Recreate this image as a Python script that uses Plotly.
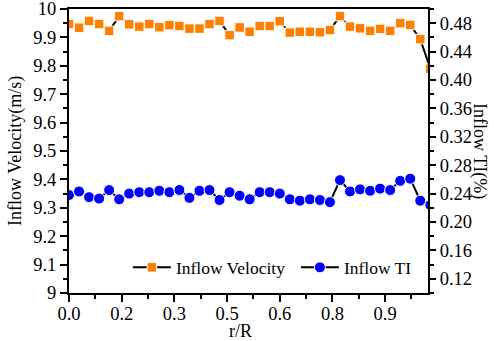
import numpy as np
import plotly.graph_objects as go

# r/R positions (36 visible points + one just beyond the axis end)
r_over_R = [i / 35 for i in range(37)]

inflow_velocity = [9.947, 9.934, 9.958, 9.947, 9.923, 9.975, 9.946, 9.938, 9.947, 9.936,
                   9.943, 9.940, 9.931, 9.931, 9.947, 9.958, 9.908, 9.935, 9.920, 9.940,
                   9.940, 9.957, 9.917, 9.920, 9.920, 9.918, 9.926, 9.975, 9.938, 9.932,
                   9.923, 9.930, 9.923, 9.950, 9.944, 9.894, 9.790]

inflow_ti = [0.238, 0.243, 0.235, 0.233, 0.245, 0.232, 0.240, 0.242, 0.242, 0.244,
             0.242, 0.245, 0.234, 0.244, 0.245, 0.231, 0.242, 0.237, 0.232, 0.242,
             0.242, 0.240, 0.232, 0.230, 0.232, 0.231, 0.228, 0.259, 0.243, 0.246,
             0.244, 0.247, 0.245, 0.258, 0.261, 0.230, 0.224]

x_tick_vals = [0.0, 0.15, 0.30, 0.45, 0.60, 0.75, 0.90]
x_tick_text = ["0.0", "0.2", "0.3", "0.5", "0.6", "0.8", "0.9"]

FONT = "'Liberation Serif', 'Times New Roman', Times, serif"
TICKFONT = dict(family=FONT, size=18.5, color="black")
TITLEFONT = dict(family=FONT, size=18, color="black")
LEGENDFONT = dict(family=FONT, size=17.5, color="black")

fig = go.Figure()
fig.add_trace(go.Scatter(
    x=r_over_R, y=inflow_velocity, name="Inflow Velocity",
    mode="lines+markers",
    line=dict(color="black", width=2),
    marker=dict(symbol="square", size=9.5, color="#FF7F00",
                line=dict(width=1, color="white")),
    yaxis="y", legend="legend",
))
fig.add_trace(go.Scatter(
    x=r_over_R, y=inflow_ti, name="Inflow TI",
    mode="lines+markers",
    line=dict(color="black", width=2),
    marker=dict(symbol="circle", size=11, color="#0000FF",
                line=dict(width=1, color="white")),
    yaxis="y2", legend="legend2",
))

fig.update_layout(
    template="none",
    width=498, height=341,
    margin=dict(l=69, r=70, t=9, b=48),
    paper_bgcolor="white", plot_bgcolor="white",
    font=dict(family=FONT, color="black"),
    showlegend=True,
    legend=dict(
        orientation="h", x=0.164, y=0.09, xanchor="left", yanchor="middle",
        bgcolor="rgba(0,0,0,0)", font=LEGENDFONT, itemwidth=38,
    ),
    legend2=dict(
        orientation="h", x=0.632, y=0.09, xanchor="left", yanchor="middle",
        bgcolor="rgba(0,0,0,0)", font=LEGENDFONT, itemwidth=38,
    ),
    xaxis=dict(
        range=[0, 1.022], showgrid=False, zeroline=False,
        showline=True, linecolor="black", linewidth=2, mirror=True,
        tickmode="array", tickvals=x_tick_vals, ticktext=x_tick_text,
        ticks="outside", ticklen=7, tickwidth=1.5, tickcolor="black",
        tickfont=TICKFONT, ticklabelstandoff=-4, ticklabeloverflow="allow",
        minor=dict(tickvals=list(np.arange(0.075, 1.02, 0.15)), ticks="outside",
                   ticklen=4, tickwidth=1.5, tickcolor="black", showgrid=False),
    ),
    yaxis=dict(
        range=[9, 10], dtick=0.1, tick0=9, showgrid=False, zeroline=False,
        showline=True, linecolor="black", linewidth=2,
        ticks="outside", ticklen=7, tickwidth=1.5, tickcolor="black",
        tickfont=TICKFONT, ticklabeloverflow="allow",
        minor=dict(dtick=0.05, tick0=9, ticks="outside", ticklen=4, tickwidth=1.5,
                   tickcolor="black", showgrid=False),
    ),
    yaxis2=dict(
        range=[0.1, 0.5], overlaying="y", side="right",
        tick0=0.12, dtick=0.04, tickformat=".2f",
        showgrid=False, zeroline=False,
        showline=True, linecolor="black", linewidth=2,
        ticks="outside", ticklen=6, tickwidth=1.5, tickcolor="black",
        tickfont=TICKFONT, ticklabeloverflow="allow",
        minor=dict(dtick=0.02, tick0=0.1, ticks="outside", ticklen=4, tickwidth=1.5,
                   tickcolor="black", showgrid=False),
    ),
    annotations=[
        dict(text="Inflow Velocity(m/s)", xref="paper", yref="paper",
             x=0, y=0.5, xshift=-54, xanchor="center", yanchor="middle",
             textangle=-90, showarrow=False, font=TITLEFONT),
        dict(text="Inflow TI(%)", xref="paper", yref="paper",
             x=1, y=0.5, xshift=52, xanchor="center", yanchor="middle",
             textangle=90, showarrow=False, font=TITLEFONT),
        dict(text="r/R", xref="paper", yref="paper",
             x=0.479, y=0, yshift=-38, xanchor="center", yanchor="middle",
             showarrow=False, font=TITLEFONT),
    ],
)

fig.write_html(
    "out.html",
    config={"displayModeBar": False},
    post_script="document.body.style.margin='0';document.body.style.padding='0';"
                "document.body.style.overflow='hidden';",
)
